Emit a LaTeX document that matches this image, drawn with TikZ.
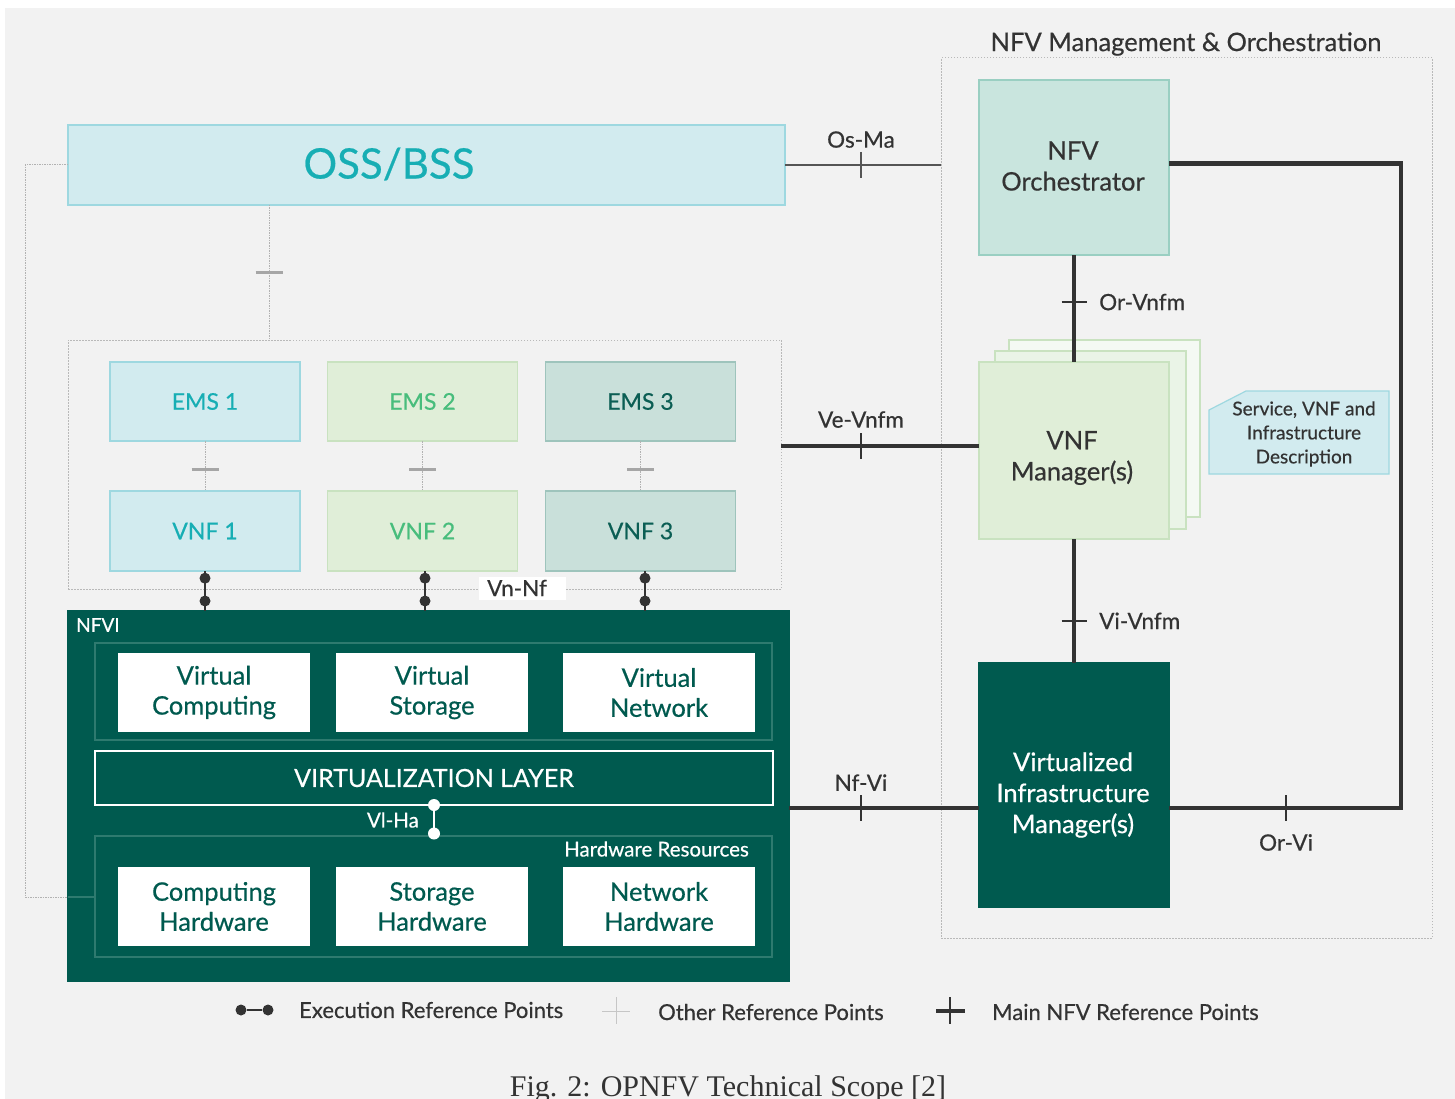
\documentclass[tikz,border=0pt]{standalone}
\usepackage{fontspec}
\setmainfont{Lato}[FakeBold=0.5]
\newfontfamily\capfont{Liberation Serif}
\definecolor{bgray}{HTML}{F2F2F2}
\definecolor{nfvgreen}{HTML}{005A4F}
\definecolor{cyanfill}{HTML}{D2EBEF}
\definecolor{cyanline}{HTML}{9ED8E0}
\definecolor{cyantext}{HTML}{17AEB4}
\definecolor{greenfill}{HTML}{E0EED8}
\definecolor{greenline}{HTML}{C9E2C0}
\definecolor{greentext}{HTML}{48BD7C}
\definecolor{tealfill}{HTML}{C9E0DA}
\definecolor{tealline}{HTML}{9EC4BC}
\definecolor{tealtext}{HTML}{0B5E54}
\definecolor{mintfill}{HTML}{C9E5DE}
\definecolor{mintline}{HTML}{9ACFC2}
\definecolor{vnfmmid}{HTML}{EAF4E7}
\definecolor{vnfmback}{HTML}{F4F9F3}
\definecolor{darkline}{HTML}{333333}
\definecolor{midgray}{HTML}{555555}
\definecolor{textgray}{HTML}{333333}
\definecolor{innerline}{HTML}{2E7A6F}
\begin{document}
\begin{tikzpicture}[x=1pt, y=-1pt,
  box/.style={draw, line width=1.2pt, inner sep=0pt, outer sep=0pt, align=center},
  whitebox/.style={box, fill=white, draw=white, text=nfvgreen, minimum width=190pt, minimum height=77pt, font=\fontsize{25.5}{30}\selectfont},
  dotframe/.style={draw=gray!55, line width=1pt, dash pattern=on 1.5pt off 1.5pt, inner sep=0pt, outer sep=0pt},
  innerframe/.style={draw=innerline, line width=1.2pt, inner sep=0pt, outer sep=0pt},
  mainline/.style={draw=darkline, line width=4.5pt},
  osline/.style={draw=midgray, line width=2.5pt},
  thinline/.style={draw=gray!60, line width=1pt, dash pattern=on 1.5pt off 1pt},
  reftick/.style={draw=darkline, line width=2pt},
  thintick/.style={draw=gray!70, line width=3pt},
  execdot/.style={circle, fill=darkline, inner sep=0pt, minimum size=11pt},
  whitedot/.style={circle, fill=white, inner sep=0pt, minimum size=12pt},
  reflabel/.style={text=textgray, font=\fontsize{22.5}{26}\selectfont, inner sep=0pt},
  legendtext/.style={text=textgray, font=\fontsize{22}{26}\selectfont, inner sep=0pt, anchor=west},
  bigtext/.style={align=center, inner sep=0pt, font=\fontsize{25.5}{31}\selectfont},
]
\useasboundingbox (0,0) rectangle (1455,1099);
\fill[white] (0,0) rectangle (1455,1099);
\fill[bgray] (5,8) rectangle (1455,1099);

% containers
\node[dotframe, minimum width=491pt, minimum height=880pt] (mano) at (1186.5,498) {};
\node[text=textgray, font=\fontsize{25.5}{28}\selectfont] (manotitle) at (1186,44) {NFV Management \& Orchestration};
\node[dotframe, minimum width=713pt, minimum height=249pt] (group) at (424.5,464.5) {};

% OSS/BSS
\node[box, fill=cyanfill, draw=cyanline, minimum width=717pt, minimum height=80pt] (oss) at (426.5,165) {};
\node[text=cyantext, font=\fontsize{42}{46}\selectfont] (osstext) at (389,164) {OSS/BSS};

% EMS and VNF columns
\foreach \i/\x/\fc/\lc/\tc in {1/205/cyanfill/cyanline/cyantext, 2/422.5/greenfill/greenline/greentext, 3/640.5/tealfill/tealline/tealtext}{
  \node[box, fill=\fc, draw=\lc, text=\tc, minimum width=190pt, minimum height=79pt, font=\fontsize{23}{26}\selectfont] (ems\i) at (\x,401.5) {EMS \i};
  \node[box, fill=\fc, draw=\lc, text=\tc, minimum width=190pt, minimum height=80pt, font=\fontsize{23}{26}\selectfont] (vnf\i) at (\x,531) {VNF \i};
  \draw[thinline] (ems\i.south) -- coordinate[pos=0.56] (ev\i) (vnf\i.north);
  \draw[thintick] ([xshift=-13.5pt]ev\i) -- ([xshift=13.5pt]ev\i);
}
\coordinate (osstick) at (269,272);
\draw[thinline] (oss.south -| osstick) -- (osstick |- group.north);
\draw[thintick] ([xshift=-13.5pt]osstick) -- ([xshift=13.5pt]osstick);

% NFVI
\node[box, fill=nfvgreen, draw=nfvgreen, minimum width=721pt, minimum height=370pt] (nfvi) at (428.5,796) {};
\node[anchor=west, text=white, font=\fontsize{19}{22}\selectfont, inner sep=0pt] (nfvilabel) at (76,625) {NFVI};
\node[innerframe, minimum width=677pt, minimum height=97pt] (virt) at (433.5,691.5) {};
\foreach \n/\x/\t in {vcomp/214/Virtual\\Computing, vstor/432/Virtual\\Storage, vnet/659/Virtual\\Network}
  \node[whitebox] (\n) at (\x,692.5) {\t};
\node[box, draw=white, line width=2pt, minimum width=678pt, minimum height=54pt, text=white, font=\fontsize{25}{28}\selectfont] (vlayer) at (434,778) {VIRTUALIZATION LAYER};
\node[innerframe, minimum width=677pt, minimum height=121pt] (hwres) at (433.5,896.5) {};
\node[anchor=east, text=white, font=\fontsize{20.5}{24}\selectfont, inner sep=0pt] (hwlabel) at (749,849) {Hardware Resources};
\foreach \n/\x/\t in {hcomp/214/Computing\\Hardware, hstor/432/Storage\\Hardware, hnet/659/Network\\Hardware}
  \node[whitebox] (\n) at (\x,906.5) {\t};
\draw[white, line width=2pt] (vlayer.south) -- node[whitedot, pos=0]{} node[whitedot, pos=0.92]{} (vlayer.south |- hwres.north);
\node[anchor=east, text=white, font=\fontsize{20.5}{23}\selectfont, inner sep=0pt] (vlha) at (419,820) {Vl-Ha};

% execution reference points
\foreach \i/\x in {1/205, 2/425, 3/645}{
  \coordinate (ex\i) at (\x,0);
  \draw[darkline, line width=2.5pt] (vnf\i.south -| ex\i) -- node[execdot, pos=0.18]{} node[execdot, pos=0.75]{} (ex\i |- nfvi.north);
}
\node[fill=white, inner sep=0pt, minimum width=87pt, minimum height=23pt] (vnnf) at (522.5,588.5) {};
\node[reflabel] (vnnftext) at (517,588) {Vn-Nf};

% left link
\coordinate (leftbend) at (25,897);
\draw[thinline] (oss.west) -| (leftbend) -- (leftbend -| nfvi.west);
\draw[draw=innerline, line width=1.2pt] (leftbend -| nfvi.west) -- (leftbend -| hwres.west);

% MANO blocks
\node[box, fill=mintfill, draw=mintline, minimum width=190pt, minimum height=175pt] (orch) at (1074,167.5) {};
\node[bigtext, text=textgray] (orchtext) at (1073,166) {NFV\\Orchestrator};
\node[box, fill=vnfmback, draw=greenline, minimum width=191pt, minimum height=177pt] (vnfmback) at (1104.5,428.5) {};
\node[box, fill=vnfmmid, draw=greenline, minimum width=191pt, minimum height=178pt] (vnfmmid) at (1090.5,440) {};
\node[box, fill=greenfill, draw=greenline, minimum width=190pt, minimum height=177pt] (vnfm) at (1074,450.5) {};
\node[bigtext, text=textgray] (vnfmtext) at (1072,458) {VNF\\Manager(s)};
\node[box, fill=nfvgreen, draw=nfvgreen, minimum width=190pt, minimum height=244pt] (vim) at (1074,785) {};
\node[bigtext, text=white] (vimtext) at (1073,795) {Virtualized\\Infrastructure\\Manager(s)};
\draw[fill=cyanfill, draw=cyanline, line width=1.2pt] (1209,410) -- (1246,391) -- (1389,391) -- (1389,474) -- (1209,474) -- cycle;
\node[text=textgray, align=center, font=\fontsize{19}{24}\selectfont] (descr) at (1304,434) {Service, VNF and\\Infrastructure\\Description};

% reference points
\draw[osline] (oss.east) -- coordinate[pos=0.487] (osma) (oss.east -| mano.west);
\draw[osline, line width=2pt] ([yshift=13pt]osma) -- ([yshift=-13pt]osma);
\node[reflabel, above=17pt] at (osma) {Os-Ma};

\draw[mainline] (orch.south) -- coordinate[pos=0.44] (orvnfm) (vnfm.north);
\draw[reftick] ([xshift=-12.5pt]orvnfm) -- ([xshift=12.5pt]orvnfm);
\node[reflabel, anchor=west] at ([xshift=25pt]orvnfm) {Or-Vnfm};

\coordinate (velevel) at (0,446);
\draw[mainline] (velevel -| group.east) -- coordinate[pos=0.404] (vevnfm) (velevel -| vnfm.west);
\draw[reftick] ([yshift=13pt]vevnfm) -- ([yshift=-13pt]vevnfm);
\node[reflabel, above=18pt] at (vevnfm) {Ve-Vnfm};

\draw[mainline] (vnfm.south) -- coordinate[pos=0.66] (vivnfm) (vim.north);
\draw[reftick] ([xshift=-12.5pt]vivnfm) -- ([xshift=12.5pt]vivnfm);
\node[reflabel, anchor=west] at ([xshift=25pt]vivnfm) {Vi-Vnfm};

\coordinate (vilevel) at (1401,808);
\draw[mainline] (vilevel -| nfvi.east) -- coordinate[pos=0.379] (nfvivi) (vilevel -| vim.west);
\draw[reftick] ([yshift=13pt]nfvivi) -- ([yshift=-13pt]nfvivi);
\node[reflabel, above=17pt] at (nfvivi) {Nf-Vi};

\draw[mainline] ([yshift=4pt]orch.east) -| (vilevel) -- (vilevel -| vim.east);
\coordinate (orvi) at (1286,808);
\draw[reftick] ([yshift=13pt]orvi) -- ([yshift=-13pt]orvi);
\node[reflabel, below=26pt] at (orvi) {Or-Vi};

% legend
\node[execdot] (lgdot1) at (241,1010) {};
\node[execdot] (lgdot2) at (268,1010) {};
\draw[darkline, line width=2.5pt] (lgdot1) -- (lgdot2);
\node[legendtext] (lgexec) at (299,1010) {Execution Reference Points};
\draw[gray!45, line width=1pt] (616,997) -- (616,1024);
\draw[gray!45, line width=1pt] (602,1011) -- (630,1011);
\node[legendtext] (lgother) at (658,1012) {Other Reference Points};
\draw[darkline, line width=4pt] (936,1011) -- (965,1011);
\draw[darkline, line width=1.5pt] (950,997) -- (950,1024);
\node[legendtext] (lgmain) at (992,1012) {Main NFV Reference Points};

\node[anchor=base, text=textgray, font=\capfont\fontsize{30}{32}\selectfont, inner sep=0pt] (caption) at (728,1096) {Fig. 2: OPNFV Technical Scope [2]};
\end{tikzpicture}
\end{document}
